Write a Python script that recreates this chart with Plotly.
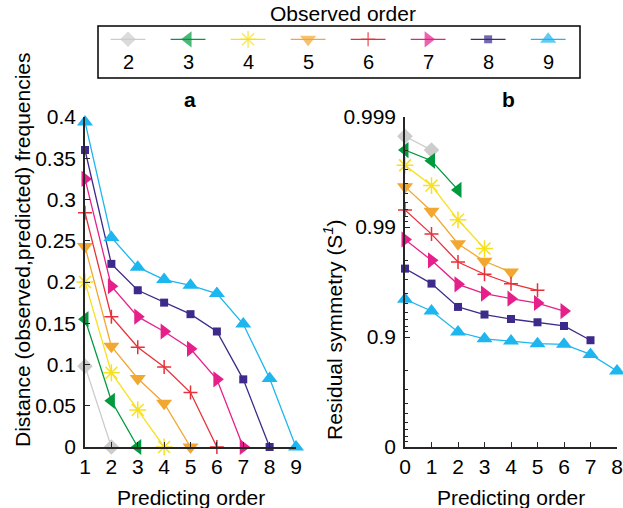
import plotly.graph_objects as go

W, H = 623, 508

# ---------------- data ----------------
orders = [2, 3, 4, 5, 6, 7, 8, 9]
colors = ["#cccccc", "#009a3e", "#f7e01e", "#f2a731", "#e8303a", "#e6208a", "#3d2a8a", "#1db6ee"]
symbols = ["diamond", "triangle-left", "asterisk-open", "triangle-down",
           "cross-thin-open", "triangle-right", "square", "triangle-up"]
msizes = [12, 14, 14, 14, 10, 14, 8, 14]

# panel a: distance(observed, predicted) frequencies, predicting order 1..k
dist_2 = [0.098, 0.0]
dist_3 = [0.155, 0.056, 0.0]
dist_4 = [0.200, 0.090, 0.045, 0.0]
dist_5 = [0.243, 0.122, 0.083, 0.053, 0.0]
dist_6 = [0.284, 0.158, 0.121, 0.097, 0.066, 0.0]
dist_7 = [0.325, 0.195, 0.158, 0.140, 0.119, 0.082, 0.0]
dist_8 = [0.360, 0.222, 0.190, 0.175, 0.161, 0.140, 0.082, 0.0]
dist_9 = [0.394, 0.254, 0.218, 0.203, 0.196, 0.186, 0.149, 0.083, 0.0]
dist = [dist_2, dist_3, dist_4, dist_5, dist_6, dist_7, dist_8, dist_9]

# panel b: residual symmetry S^1, predicting order 0..k-1
sym_2 = [0.9985, 0.9980]
sym_3 = [0.9980, 0.9975, 0.9954]
sym_4 = [0.99725, 0.9958, 0.9914, 0.9843]
sym_5 = [0.9957, 0.9928, 0.9858, 0.9795, 0.9743]
sym_6 = [0.9930, 0.9884, 0.9792, 0.9731, 0.9672, 0.9624]
sym_7 = [0.9870, 0.9799, 0.9668, 0.9597, 0.9552, 0.9509, 0.9419]
sym_8 = [0.9761, 0.9673, 0.9467, 0.9375, 0.9314, 0.9265, 0.9206, 0.8930]
sym_9 = [0.9546, 0.9420, 0.9099, 0.8960, 0.8910, 0.8850, 0.8835, 0.8560, 0.7960]
sym = [sym_2, sym_3, sym_4, sym_5, sym_6, sym_7, sym_8, sym_9]

a_xticks = [1, 2, 3, 4, 5, 6, 7, 8, 9]
a_yticks = [0, 0.05, 0.1, 0.15, 0.2, 0.25, 0.3, 0.35, 0.4]
a_yticktext = ["0", "0.05", "0.1", "0.15", "0.2", "0.25", "0.3", "0.35", "0.4"]
b_xticks = [0, 1, 2, 3, 4, 5, 6, 7, 8]
b_yticks_S = [0, 0.9, 0.99, 0.999]
b_yticktext = ["0", "0.9", "0.99", "0.999"]

FONT = "Liberation Sans, Arial, Helvetica, sans-serif"
AX = "#262626"


def fx(p):
    return p / W


def fy(p):
    return 1 - p / H


fig = go.Figure()

for i, k in enumerate(orders):
    mk = dict(symbol=symbols[i], size=msizes[i], color=colors[i],
              line=dict(color=colors[i], width=1.5 if "open" in symbols[i] else 0))
    fig.add_trace(go.Scatter(
        x=list(range(1, len(dist[i]) + 1)), y=dist[i], mode="lines+markers",
        line=dict(color=colors[i], width=1.3), marker=mk, name=str(k),
        showlegend=False, cliponaxis=False, xaxis="x", yaxis="y"))
    fig.add_trace(go.Scatter(
        x=list(range(0, len(sym[i]))), y=[1 - s for s in sym[i]], mode="lines+markers",
        line=dict(color=colors[i], width=1.3), marker=mk, name=str(k),
        customdata=sym[i], hovertemplate="S=%{customdata}<extra></extra>",
        showlegend=False, cliponaxis=False, xaxis="x2", yaxis="y2"))
    # custom legend entry: line with marker on top, label below
    c = i + 0.5
    fig.add_trace(go.Scatter(
        x=[c - 0.29, c, c + 0.29], y=[0.744, 0.744, 0.744], mode="lines+markers",
        line=dict(color=colors[i], width=1.3),
        marker=dict(symbol=symbols[i], size=[0, msizes[i], 0], color=colors[i],
                    line=dict(color=colors[i], width=1.5 if "open" in symbols[i] else 0)),
        showlegend=False, hoverinfo="skip", cliponaxis=False, xaxis="x3", yaxis="y3"))
    fig.add_annotation(x=c, y=0.30, xref="x3", yref="y3", text=str(k), showarrow=False,
                       xanchor="center", yanchor="middle",
                       font=dict(size=20, color="black", family=FONT))

common = dict(showline=True, linecolor=AX, linewidth=1.5, ticks="inside", ticklen=5,
              tickwidth=1, tickcolor=AX, showgrid=False, zeroline=False, automargin=False,
              tickfont=dict(size=21, color="black", family=FONT))

minor_vals = [m * 10 ** e for e in (-3, -2, -1) for m in range(2, 10)]

fig.update_layout(
    width=W, height=H, margin=dict(l=0, r=0, t=0, b=0),
    paper_bgcolor="white", plot_bgcolor="rgba(0,0,0,0)", template="none",
    font=dict(family=FONT, color="black"),
    xaxis=dict(domain=[fx(85), fx(296)], range=[1, 9], tickmode="array", tickvals=a_xticks,
               anchor="y", **common),
    yaxis=dict(domain=[fy(447), fy(117)], range=[0, 0.4], tickmode="array", tickvals=a_yticks,
               ticktext=a_yticktext, anchor="x", ticklabelstandoff=3, **common),
    xaxis2=dict(domain=[fx(405), fx(617)], range=[0, 8], tickmode="array", tickvals=b_xticks,
                anchor="y2", **common),
    yaxis2=dict(domain=[fy(447), fy(117)], type="log", range=[0, -3], tickmode="array",
                tickvals=[1 - s for s in b_yticks_S], ticktext=b_yticktext, anchor="x2",
                ticklabelstandoff=3,
                minor=dict(tickmode="array", tickvals=minor_vals, ticks="inside", ticklen=3,
                           tickcolor=AX, showgrid=False),
                **common),
    xaxis3=dict(domain=[fx(98), fx(580)], range=[0, 8.03], visible=False, anchor="y3"),
    yaxis3=dict(domain=[fy(78), fy(26)], range=[0, 1], visible=False, anchor="x3"),
    showlegend=False,
)


def label(xp, yp, text, angle=0, size=21):
    fig.add_annotation(x=fx(xp), y=fy(yp), xref="paper", yref="paper", text=text,
                       textangle=angle, showarrow=False, xanchor="center", yanchor="middle",
                       font=dict(size=size, color="black", family=FONT))


# legend frame and title
fig.add_shape(type="rect", xref="paper", yref="paper", x0=fx(98), x1=fx(580), y0=fy(78), y1=fy(26),
              line=dict(color="black", width=1.5))
label(343, 14, "Observed order")

# panel titles
label(190, 99, "<b>a</b>")
label(508, 99, "<b>b</b>")

# axis titles
label(191, 497, "Predicting order")
label(511, 497, "Predicting order")
label(22, 250, "Distance (observed,predicted) frequencies", angle=-90)
label(333, 330, "Residual symmetry (S<sup><i>1</i></sup>)", angle=-90)

fig.write_html("out.html")
